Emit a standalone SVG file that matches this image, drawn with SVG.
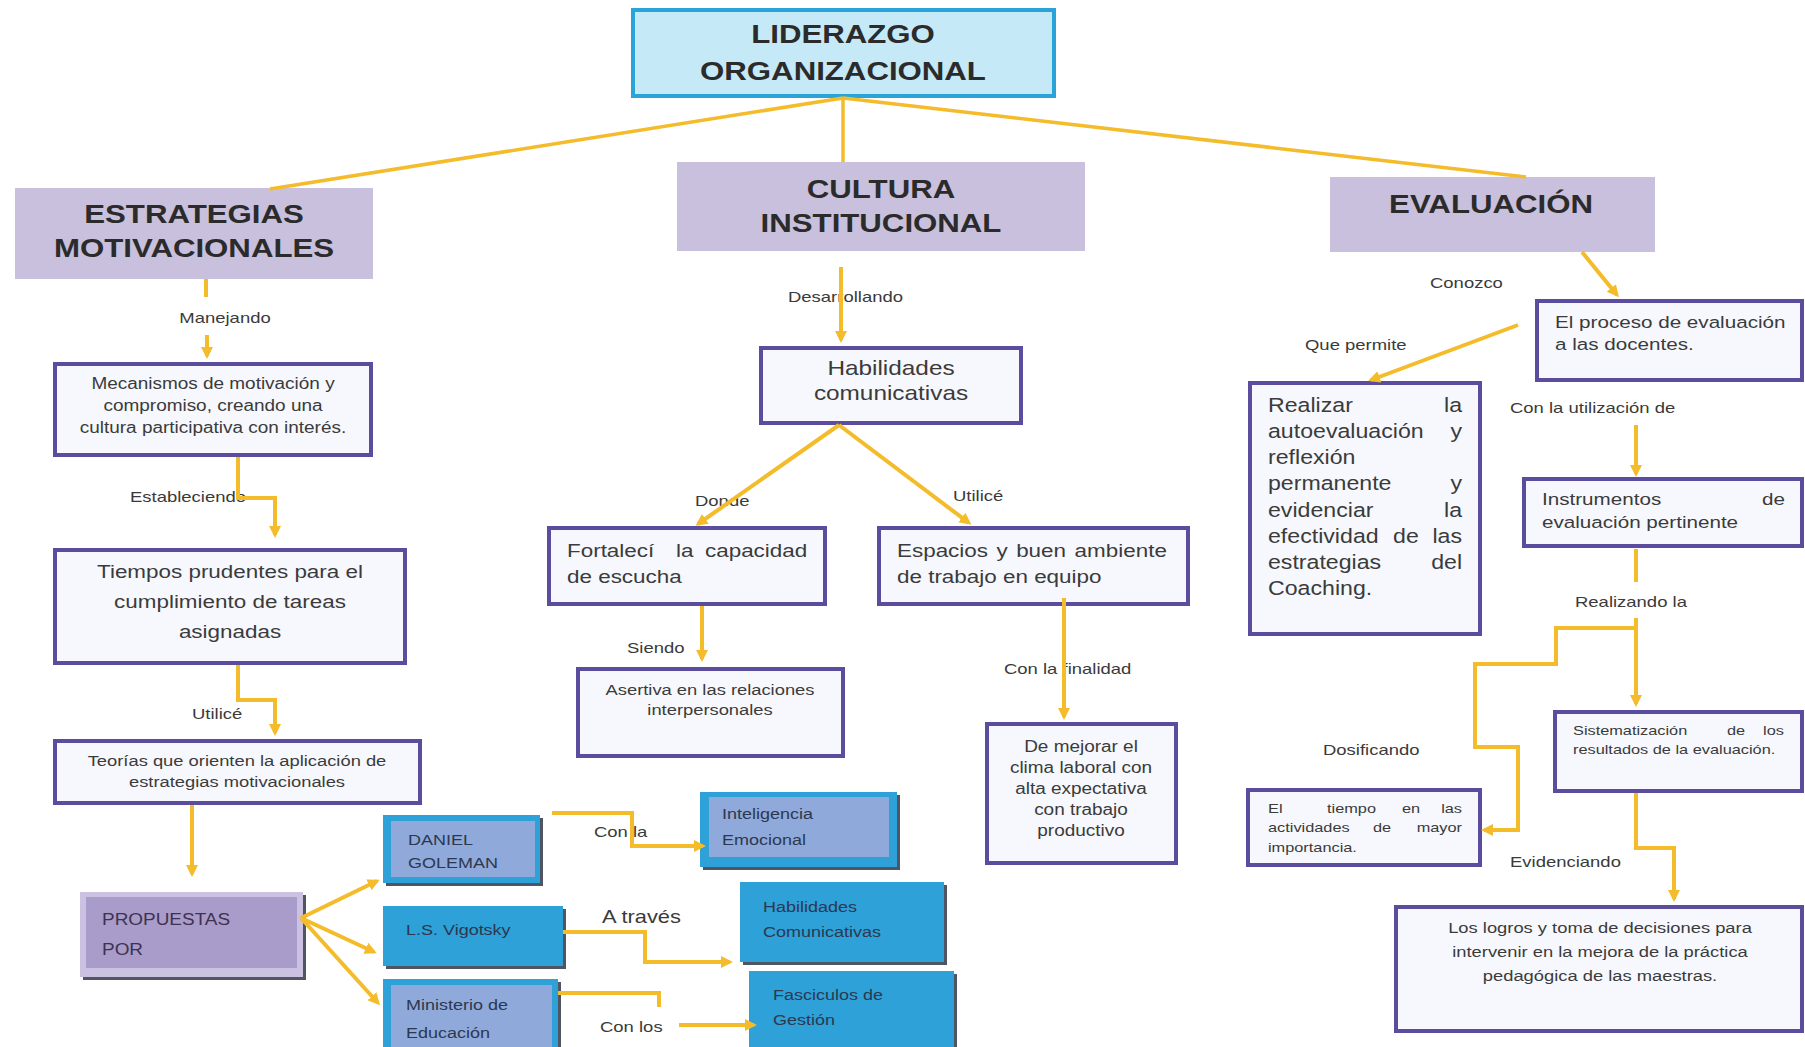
<svg xmlns="http://www.w3.org/2000/svg" width="1805" height="1047" viewBox="0 0 1805 1047">
<defs>
<style>
text{font-family:"Liberation Sans",Arial,sans-serif;fill:#3b3b3b}
.hdr{font-weight:bold;font-size:26px;fill:#2b2b2b;text-anchor:middle}
.lbl{font-size:15.4px;fill:#3a3a3a}
.c{text-anchor:middle}
.e{text-anchor:end}
.box{fill:#f6f8fd;stroke:#5b4c9e;stroke-width:4}
.hbox{fill:#c8c0dc}
.con{fill:none;stroke:#f4bb2a;stroke-width:4}
.top{stroke-width:3.5}
.arr{marker-end:url(#ah)}
.blue{fill:#2da1d8}
.peri{fill:#8fa9da}
.shd{fill:#4f5562}
.bt{font-size:15px;fill:#2c3850}
.z13{font-size:13.6px}
.z15{font-size:15.3px}
.z16{font-size:15.8px}
.z17{font-size:17.2px}
.z19{font-size:18.7px}
.z19b{font-size:19.3px}
.z20{font-size:20.3px}
</style>
<marker id="ah" markerUnits="userSpaceOnUse" markerWidth="14" markerHeight="14" refX="9" refY="6" orient="auto"><path d="M0,0 L12,6 L0,12 z" fill="#f4bb2a"/></marker>
</defs>
<rect x="0" y="0" width="1805" height="1047" fill="#ffffff"/>

<g id="n-liderazgo"><rect x="633" y="10" width="421" height="86" fill="#c6e9f7" stroke="#2aa3d8" stroke-width="4"/>
<g transform="translate(843,0) scale(1.2,1)"><text class="hdr"><tspan x="0" y="43">LIDERAZGO</tspan><tspan x="0" y="80">ORGANIZACIONAL</tspan></text></g></g>

<g id="n-estrategias"><rect class="hbox" x="15" y="188" width="358" height="91"/>
<g transform="translate(194,0) scale(1.2,1)"><text class="hdr"><tspan x="0" y="223">ESTRATEGIAS</tspan><tspan x="0" y="257">MOTIVACIONALES</tspan></text></g></g>

<g id="n-cultura"><rect class="hbox" x="677" y="162" width="408" height="89"/>
<g transform="translate(881,0) scale(1.2,1)"><text class="hdr"><tspan x="0" y="198">CULTURA</tspan><tspan x="0" y="232">INSTITUCIONAL</tspan></text></g></g>

<g id="n-evaluacion"><rect class="hbox" x="1330" y="177" width="325" height="75"/>
<g transform="translate(1491,0) scale(1.2,1)"><text class="hdr" x="0" y="213">EVALUACIÓN</text></g></g>

<g id="n-mecanismos"><rect class="box" x="55" y="364" width="316" height="91"/>
<g transform="translate(213,0) scale(1.2,1)"><text class="c z16"><tspan x="0" y="389">Mecanismos de motivación y</tspan><tspan x="0" y="411">compromiso, creando una</tspan><tspan x="0" y="433">cultura participativa con interés.</tspan></text></g></g>

<g id="n-tiempos"><rect class="box" x="55" y="550" width="350" height="113"/>
<g transform="translate(230,0) scale(1.2,1)"><text class="c z19"><tspan x="0" y="578">Tiempos prudentes para el</tspan><tspan x="0" y="608">cumplimiento de tareas</tspan><tspan x="0" y="638">asignadas</tspan></text></g></g>

<g id="n-teorias"><rect class="box" x="55" y="741" width="365" height="62"/>
<g transform="translate(237,0) scale(1.2,1)"><text class="c z15"><tspan x="0" y="766">Teorías que orienten la aplicación de</tspan><tspan x="0" y="787">estrategias motivacionales</tspan></text></g></g>

<g id="n-propuestas"><rect class="shd" x="83" y="895" width="223" height="85"/><rect x="80" y="892" width="223" height="85" fill="#cbc1e0"/><rect x="86" y="897" width="211" height="71" fill="#a99bca"/>
<g transform="translate(102,0) scale(1.2,1)"><text class="z16" style="fill:#3d3350"><tspan x="0" y="925">PROPUESTAS</tspan><tspan x="0" y="955">POR</tspan></text></g></g>

<g id="n-goleman"><rect class="shd" x="386" y="818" width="157" height="68"/><rect class="blue" x="383" y="815" width="157" height="68"/><rect class="peri" x="391" y="821" width="144" height="56"/>
<g transform="translate(408,0) scale(1.2,1)"><text class="bt"><tspan x="0" y="845">DANIEL</tspan><tspan x="0" y="868">GOLEMAN</tspan></text></g></g>

<g id="n-vigotsky"><rect class="shd" x="386" y="909" width="180" height="60"/><rect class="blue" x="383" y="906" width="180" height="60"/>
<g transform="translate(406,0) scale(1.2,1)"><text class="bt" x="0" y="935">L.S. Vigotsky</text></g></g>

<g id="n-ministerio"><rect class="shd" x="386" y="982" width="175" height="70"/><rect class="blue" x="383" y="979" width="175" height="70"/><rect class="peri" x="391" y="985" width="161" height="65"/>
<g transform="translate(406,0) scale(1.2,1)"><text class="bt"><tspan x="0" y="1010">Ministerio de</tspan><tspan x="0" y="1038">Educación</tspan></text></g></g>

<g id="n-inteligencia"><rect class="shd" x="703" y="795" width="197" height="75"/><rect class="blue" x="700" y="792" width="197" height="75"/><rect class="peri" x="709" y="797" width="180" height="60"/>
<g transform="translate(722,0) scale(1.2,1)"><text class="bt"><tspan x="0" y="819">Inteligencia</tspan><tspan x="0" y="845">Emocional</tspan></text></g></g>

<g id="n-habilidades-blue"><rect class="shd" x="743" y="885" width="204" height="80"/><rect class="blue" x="740" y="882" width="204" height="80"/>
<g transform="translate(763,0) scale(1.2,1)"><text class="bt"><tspan x="0" y="912">Habilidades</tspan><tspan x="0" y="937">Comunicativas</tspan></text></g></g>

<g id="n-fasciculos"><rect class="shd" x="752" y="974" width="205" height="80"/><rect class="blue" x="749" y="971" width="205" height="80"/>
<g transform="translate(773,0) scale(1.2,1)"><text class="bt"><tspan x="0" y="1000">Fasciculos de</tspan><tspan x="0" y="1025">Gestión</tspan></text></g></g>

<g id="n-habilidades"><rect class="box" x="761" y="348" width="260" height="75"/>
<g transform="translate(891,0) scale(1.2,1)"><text class="c z20"><tspan x="0" y="375">Habilidades</tspan><tspan x="0" y="400">comunicativas</tspan></text></g></g>

<g id="n-fortaleci"><rect class="box" x="549" y="528" width="276" height="76"/>
<g transform="translate(567,0) scale(1.2,1)"><text class="z19"><tspan x="0" y="557">Fortalecí</tspan><tspan x="90.8" y="557">la</tspan><tspan x="115" y="557">capacidad</tspan><tspan x="0" y="583">de escucha</tspan></text></g></g>

<g id="n-espacios"><rect class="box" x="879" y="528" width="309" height="76"/>
<g transform="translate(897,0) scale(1.2,1)"><text class="z19"><tspan x="0" y="557">Espacios</tspan><tspan x="82.9" y="557">y</tspan><tspan x="99.3" y="557">buen</tspan><tspan x="148" y="557">ambiente</tspan><tspan x="0" y="583">de trabajo en equipo</tspan></text></g></g>

<g id="n-asertiva"><rect class="box" x="578" y="669" width="265" height="87"/>
<g transform="translate(710,0) scale(1.2,1)"><text class="c z15"><tspan x="0" y="695">Asertiva en las relaciones</tspan><tspan x="0" y="715">interpersonales</tspan></text></g></g>

<g id="n-mejorar"><rect class="box" x="987" y="724" width="189" height="139"/>
<g transform="translate(1081,0) scale(1.2,1)"><text class="c z16"><tspan x="0" y="752">De mejorar el</tspan><tspan x="0" y="773">clima laboral con</tspan><tspan x="0" y="794">alta expectativa</tspan><tspan x="0" y="815">con trabajo</tspan><tspan x="0" y="836">productivo</tspan></text></g></g>

<g id="n-proceso"><rect class="box" x="1537" y="301" width="265" height="79"/>
<g transform="translate(1555,0) scale(1.2,1)"><text class="z17"><tspan x="0" y="328">El proceso de evaluación</tspan><tspan x="0" y="350">a las docentes.</tspan></text></g></g>

<g id="n-realizar"><rect class="box" x="1250" y="383" width="230" height="251"/>
<g transform="translate(1268,0) scale(1.2,1)">
<text class="z19b"><tspan x="0" y="412">Realizar</tspan><tspan x="0" y="438">autoevaluación</tspan><tspan x="0" y="464">reflexión</tspan><tspan x="0" y="490">permanente</tspan><tspan x="0" y="517">evidenciar</tspan><tspan x="0" y="543">efectividad</tspan><tspan x="104.2" y="543">de</tspan><tspan x="0" y="569">estrategias</tspan><tspan x="0" y="595">Coaching.</tspan></text>
<text class="z19b e"><tspan x="161.7" y="412">la</tspan><tspan x="161.7" y="438">y</tspan><tspan x="161.7" y="490">y</tspan><tspan x="161.7" y="517">la</tspan><tspan x="161.7" y="543">las</tspan><tspan x="161.7" y="569">del</tspan></text>
</g></g>

<g id="n-instrumentos"><rect class="box" x="1524" y="479" width="278" height="67"/>
<g transform="translate(1542,0) scale(1.2,1)"><text class="z17"><tspan x="0" y="505">Instrumentos</tspan><tspan x="0" y="528">evaluación pertinente</tspan></text><text class="z17 e" x="202.5" y="505">de</text></g></g>

<g id="n-sistematizacion"><rect class="box" x="1555" y="712" width="247" height="79"/>
<g transform="translate(1573,0) scale(1.2,1)"><text class="z13"><tspan x="0" y="735">Sistematización</tspan><tspan x="128.3" y="735">de</tspan><tspan x="0" y="754">resultados de la evaluación.</tspan></text><text class="z13 e" x="175.8" y="735">los</text></g></g>

<g id="n-tiempo"><rect class="box" x="1248" y="790" width="232" height="75"/>
<g transform="translate(1268,0) scale(1.2,1)"><text class="z13"><tspan x="0" y="813">El</tspan><tspan x="49.2" y="813">tiempo</tspan><tspan x="111.7" y="813">en</tspan><tspan x="0" y="832">actividades</tspan><tspan x="87.5" y="832">de</tspan><tspan x="0" y="852">importancia.</tspan></text><text class="z13 e"><tspan x="161.7" y="813">las</tspan><tspan x="161.7" y="832">mayor</tspan></text></g></g>

<g id="n-logros"><rect class="box" x="1396" y="907" width="406" height="124"/>
<g transform="translate(1600,0) scale(1.2,1)"><text class="c z15"><tspan x="0" y="933">Los logros y toma de decisiones para</tspan><tspan x="0" y="957">intervenir en la mejora de la práctica</tspan><tspan x="0" y="981">pedagógica de las maestras.</tspan></text></g></g>

<g id="labels">
<g transform="translate(225,0) scale(1.2,1)"><text class="lbl c" x="0" y="323">Manejando</text></g>
<g transform="translate(130,0) scale(1.2,1)"><text class="lbl" x="0" y="502">Estableciendo</text></g>
<g transform="translate(192,0) scale(1.2,1)"><text class="lbl" x="0" y="719">Utilicé</text></g>
<g transform="translate(594,0) scale(1.2,1)"><text class="lbl" x="0" y="837">Con la</text></g>
<g transform="translate(602,0) scale(1.2,1)"><text class="lbl" style="font-size:18.2px" x="0" y="923">A través</text></g>
<g transform="translate(600,0) scale(1.2,1)"><text class="lbl" x="0" y="1032">Con los</text></g>
<g transform="translate(788,0) scale(1.2,1)"><text class="lbl" x="0" y="302">Desarrollando</text></g>
<g transform="translate(695,0) scale(1.2,1)"><text class="lbl" x="0" y="506">Donde</text></g>
<g transform="translate(953,0) scale(1.2,1)"><text class="lbl" x="0" y="501">Utilicé</text></g>
<g transform="translate(627,0) scale(1.2,1)"><text class="lbl" x="0" y="653">Siendo</text></g>
<g transform="translate(1004,0) scale(1.2,1)"><text class="lbl" x="0" y="674">Con la finalidad</text></g>
<g transform="translate(1430,0) scale(1.2,1)"><text class="lbl" x="0" y="288">Conozco</text></g>
<g transform="translate(1305,0) scale(1.2,1)"><text class="lbl" x="0" y="350">Que permite</text></g>
<g transform="translate(1510,0) scale(1.2,1)"><text class="lbl" x="0" y="413">Con la utilización de</text></g>
<g transform="translate(1575,0) scale(1.2,1)"><text class="lbl" x="0" y="607">Realizando la</text></g>
<g transform="translate(1323,0) scale(1.2,1)"><text class="lbl" x="0" y="755">Dosificando</text></g>
<g transform="translate(1510,0) scale(1.2,1)"><text class="lbl" x="0" y="867">Evidenciando</text></g>
</g>

<g id="connectors">
<path class="con top" d="M843,98 L270,189"/>
<path class="con top" d="M843,98 V162"/>
<path class="con top" d="M843,98 L1526,177"/>
<path class="con" d="M206,279 V297"/>
<path class="con arr" d="M207,335 V356"/>
<path class="con arr" d="M238,457 V498 H275 V535"/>
<path class="con arr" d="M238,665 V700 H275 V733"/>
<path class="con arr" d="M192,805 V874"/>
<path class="con arr" d="M301,918 L377,881"/>
<path class="con arr" d="M301,918 L374,952"/>
<path class="con arr" d="M301,918 L378,1003"/>
<path class="con arr" d="M552,813 H632 V846 H703"/>
<path class="con arr" d="M563,932 H645 V962 H730"/>
<path class="con" d="M558,993 H659 V1007"/>
<path class="con arr" d="M679,1025 H754"/>
<path class="con arr" d="M841,267 V340"/>
<path class="con arr" d="M839,425 L698,524"/>
<path class="con arr" d="M839,425 L969,523"/>
<path class="con arr" d="M702,606 V659"/>
<path class="con arr" d="M1064,598 V717"/>
<path class="con arr" d="M1582,252 L1617,295"/>
<path class="con arr" d="M1518,325 L1371,380"/>
<path class="con arr" d="M1636,425 V474"/>
<path class="con" d="M1636,549 V582"/>
<path class="con arr" d="M1636,618 V704"/>
<path class="con arr" d="M1636,628 H1556 V664 H1475 V747 H1518 V830 H1484"/>
<path class="con arr" d="M1636,793 V848 H1674 V899"/>
</g>
</svg>
